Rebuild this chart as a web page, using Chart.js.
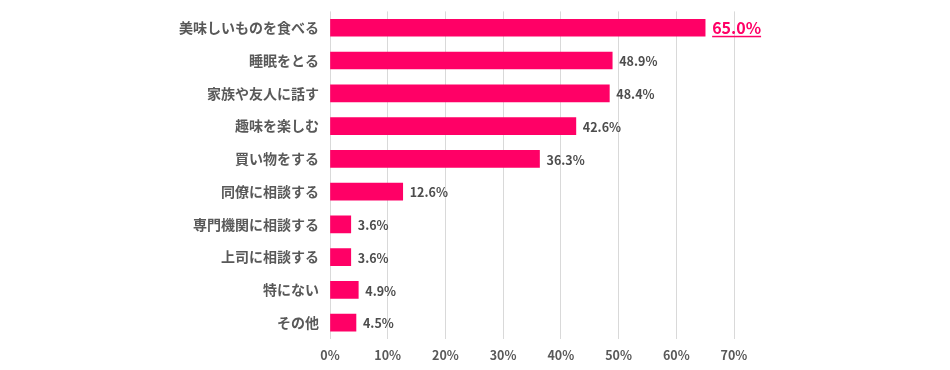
<!DOCTYPE html>
<html lang="ja">
<head>
<meta charset="utf-8" />
<title>chart</title>
<script src="https://cdn.jsdelivr.net/npm/chart.js@4/dist/chart.umd.min.js"></script>
<style>
  html, body { margin: 0; padding: 0; background: #ffffff; }
  #wrap { width: 950px; height: 370px; }
</style>
</head>
<body>
<div id="wrap"><canvas id="chart" width="950" height="370"></canvas></div>
<script>
const categories = [
  '美味しいものを食べる',
  '睡眠をとる',
  '家族や友人に話す',
  '趣味を楽しむ',
  '買い物をする',
  '同僚に相談する',
  '専門機関に相談する',
  '上司に相談する',
  '特にない',
  'その他'
];
const values = [65.0, 48.9, 48.4, 42.6, 36.3, 12.6, 3.6, 3.6, 4.9, 4.5];
const tickValues = [0, 10, 20, 30, 40, 50, 60, 70];

const barColor = '#ff0066';
const textColor = '#595959';
const fontFamily = '"Noto Sans CJK JP", "Noto Sans", sans-serif';

// value labels at the end of each bar, the top one highlighted
const valueLabels = {
  id: 'valueLabels',
  afterDatasetsDraw(chart) {
    const ctx = chart.ctx;
    const meta = chart.getDatasetMeta(0);
    ctx.save();
    ctx.textBaseline = 'middle';
    ctx.textAlign = 'left';
    meta.data.forEach((bar, i) => {
      const text = values[i].toFixed(1) + '%';
      const x = bar.x + 7;
      const y = bar.y;
      if (i === 0) {
        ctx.font = 'bold 16px ' + fontFamily;
        ctx.fillStyle = barColor;
        ctx.fillText(text, x, y);
        const w = ctx.measureText(text).width;
        ctx.fillRect(x, y + 8, w, 1.5);
      } else {
        ctx.font = 'bold 12.5px ' + fontFamily;
        ctx.fillStyle = '#4d4d4d';
        ctx.fillText(text, x, y + 1);
      }
    });
    ctx.restore();
  }
};

function init() {
  const ctx = document.getElementById('chart').getContext('2d');
  new Chart(ctx, {
    type: 'bar',
    data: {
      labels: categories,
      datasets: [{
        data: values,
        backgroundColor: barColor,
        borderWidth: 0,
        barThickness: 17
      }]
    },
    options: {
      indexAxis: 'y',
      responsive: false,
      animation: false,
      layout: { padding: { top: 0, right: 216, bottom: 0, left: 0 } },
      plugins: {
        legend: { display: false },
        tooltip: { enabled: false }
      },
      scales: {
        x: {
          min: 0,
          max: 70,
          afterBuildTicks: scale => {
            scale.ticks = tickValues.map(v => ({ value: v }));
          },
          afterFit: scale => { scale.height = 31; },
          grid: { color: '#d9d9d9', lineWidth: 1, drawTicks: false },
          border: { display: false },
          ticks: {
            padding: 9,
            color: textColor,
            font: { family: fontFamily, size: 12.5, weight: 'bold' },
            callback: v => v + '%'
          }
        },
        y: {
          afterFit: scale => { scale.width = 330; },
          grid: { display: false },
          border: { display: false },
          ticks: {
            padding: 3,
            color: textColor,
            font: { family: fontFamily, size: 14, weight: 'bold' }
          }
        }
      }
    },
    plugins: [valueLabels]
  });
}

window.addEventListener('DOMContentLoaded', init);
</script>
</body>
</html>
